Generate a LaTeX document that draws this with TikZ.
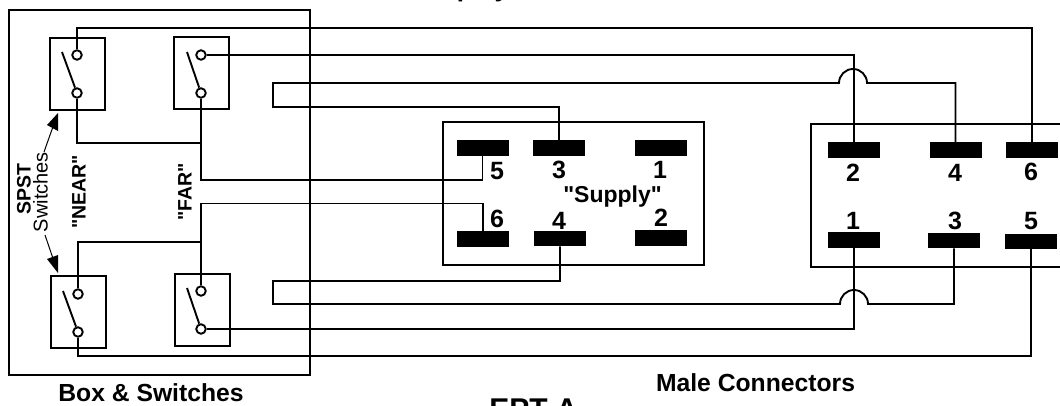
\documentclass[tikz,border=0pt]{standalone}
\usepackage{fontspec}
\setmainfont{Liberation Sans}[Ligatures=TeXOff]
\newcommand{\fs}[1]{\fontsize{#1}{#1}\selectfont}
\newcommand{\qq}{\symbol{34}}
\tikzset{
  x=1pt,y=-1pt,
  wire/.style={line width=1.9pt,line join=miter},
  framebox/.style={line width=1.7pt},
  swbox/.style={draw,line width=2pt,inner sep=0pt,minimum width=55pt,minimum height=72pt},
  term/.style={draw,circle,line width=1.9pt,inner sep=0pt,minimum size=9.5pt,fill=white},
  blade/.style={line width=1.9pt},
  pin/.style={fill=black,inner sep=0pt,minimum width=52pt,minimum height=15.5pt},
  num/.style={font=\bfseries\fs{25}},
  captext/.style={font=\bfseries\fs{24.7}},
  rotb/.style={font=\bfseries\fs{19.5},rotate=90},
  rotr/.style={font=\fs{20},rotate=90},
  lead/.style={line width=1pt},
  tiphead/.style={fill=black}
}
\begin{document}
\begin{tikzpicture}
\useasboundingbox (0,0) rectangle (1060,405);
\clip (0,0) rectangle (1060,405);
% boxes
\node[draw,framebox,inner sep=0pt,minimum width=301pt,minimum height=365pt] (box) at (159.5,192.5) {};
\node[draw,framebox,inner sep=0pt,minimum width=261pt,minimum height=143pt] (sup) at (573.5,193.5) {};
\coordinate (mTR) at (1060,124);
\coordinate (mTL) at (811,124);
\coordinate (mBL) at (811,267);
\coordinate (mBR) at (1060,267);
\draw[framebox] (mTR) -- (mTL) -- (mBL) -- (mBR);
% switches
\node[swbox] (swA) at (77,73.5) {};
\node[swbox] (swB) at (201.5,72.5) {};
\node[swbox] (swC) at (78.5,311.5) {};
\node[swbox] (swD) at (202,309.5) {};
\node[term] (aT) at (77,55) {};
\node[term] (aB) at (77,93) {};
\node[term] (bT) at (201,55) {};
\node[term] (bB) at (201,93) {};
\node[term] (cT) at (78,294) {};
\node[term] (cB) at (78,332) {};
\node[term] (dT) at (201,291) {};
\node[term] (dB) at (201,329) {};
\coordinate (aH) at (62,52);
\coordinate (bH) at (187,52);
\coordinate (cH) at (63,291);
\coordinate (dH) at (187,288);
\draw[blade] (aH) -- (aB);
\draw[blade] (bH) -- (bB);
\draw[blade] (cH) -- (cB);
\draw[blade] (dH) -- (dB);
% supply pins
\node[pin] (s5) at (482.5,148) {};
\node[pin] (s3) at (559,148) {};
\node[pin] (s1) at (660.5,148) {};
\node[pin] (s6) at (483,239) {};
\node[pin] (s4) at (560,238.5) {};
\node[pin] (s2) at (661,238) {};
% male pins
\node[pin] (m2) at (854,150) {};
\node[pin] (m4) at (955.5,150) {};
\node[pin] (m6) at (1032,150) {};
\node[pin] (m1) at (854,240) {};
\node[pin] (m3) at (954,240.5) {};
\node[pin] (m5) at (1031,241.5) {};
% wiring
\coordinate (r1) at (500,28);
\draw[wire] (aT) |- (r1) -| (m6.north);
\draw[wire] (bT) -- (bT -| m2) -- (m2.north);
\coordinate (j1) at (867,83);
\coordinate (l1) at (273,83);
\coordinate (l2) at (273,107);
\draw[wire] (m4.north) |- (j1) arc[start angle=0,end angle=180,radius=14pt] -- (l1) -- (l2) -| (s3.north);
\coordinate (r2) at (150,143);
\draw[wire] (aB) |- (r2) -| (bB);
\coordinate (r3) at (350,180);
\draw[wire] (bB) |- (r3) -| (s5.south);
\coordinate (r4) at (150,242);
\draw[wire] (cT) |- (r4) -| (dT);
\coordinate (r5) at (350,203.5);
\draw[wire] (dT) |- (r5) -| (s6.north);
\coordinate (j2) at (868,304);
\coordinate (l3) at (273,304);
\coordinate (l4) at (273,281);
\draw[wire] (m3.south) |- (j2) arc[start angle=0,end angle=180,radius=14pt] -- (l3) -- (l4) -| (s4.south);
\draw[wire] (dB) -- (dB -| m1) -- (m1.south);
\coordinate (r6) at (500,356);
\draw[wire] (cB) |- (r6) -| (m5.south);
% pin numbers
\node[num] (t5) at (497,171) {5};
\node[num] (t3) at (559,170) {3};
\node[num] (t1) at (660,170) {1};
\node[num] (t6) at (497,219) {6};
\node[num] (t4) at (559,221) {4};
\node[num] (t2) at (661,218) {2};
\node[num] (u2) at (853,173) {2};
\node[num] (u4) at (955,173) {4};
\node[num] (u6) at (1031,172) {6};
\node[num] (u1) at (853,221) {1};
\node[num] (u3) at (955,221) {3};
\node[num] (u5) at (1031,221) {5};
\node[font=\bfseries\fs{23}] (supl) at (612.5,197) {\qq Supply\qq};
% captions
\node[captext,anchor=base] (capbox) at (151,401) {Box \& Switches};
\node[captext,anchor=base] (capmale) at (755.5,391) {Male Connectors};
\node[font=\bfseries\fs{30},anchor=base] (capept) at (533.5,419) {EPT-A};
\node[font=\bfseries\fs{26},anchor=base west] (captop) at (413,-3.5) {Display};
% rotated labels
\node[rotb] (spst) at (24,189.5) {SPST};
\node[rotr] (swi) at (40.5,192) {Switches};
\node[rotb] (near) at (79,192) {\qq NEAR\qq};
\node[rotb] (far) at (185,192) {\qq FAR\qq};
% arrows
\coordinate (at1) at (58,113);
\coordinate (at2) at (47,125);
\coordinate (at3) at (58,131);
\coordinate (at4) at (52.5,128);
\coordinate (at5) at (44,152);
\fill[tiphead] (at1) -- (at2) -- (at3) -- cycle;
\draw[lead] (at5) -- (at4);
\coordinate (ab1) at (58,273);
\coordinate (ab2) at (47,259);
\coordinate (ab3) at (58,255);
\coordinate (ab4) at (52.5,257);
\coordinate (ab5) at (45,235);
\fill[tiphead] (ab1) -- (ab2) -- (ab3) -- cycle;
\draw[lead] (ab5) -- (ab4);
\end{tikzpicture}
\end{document}
